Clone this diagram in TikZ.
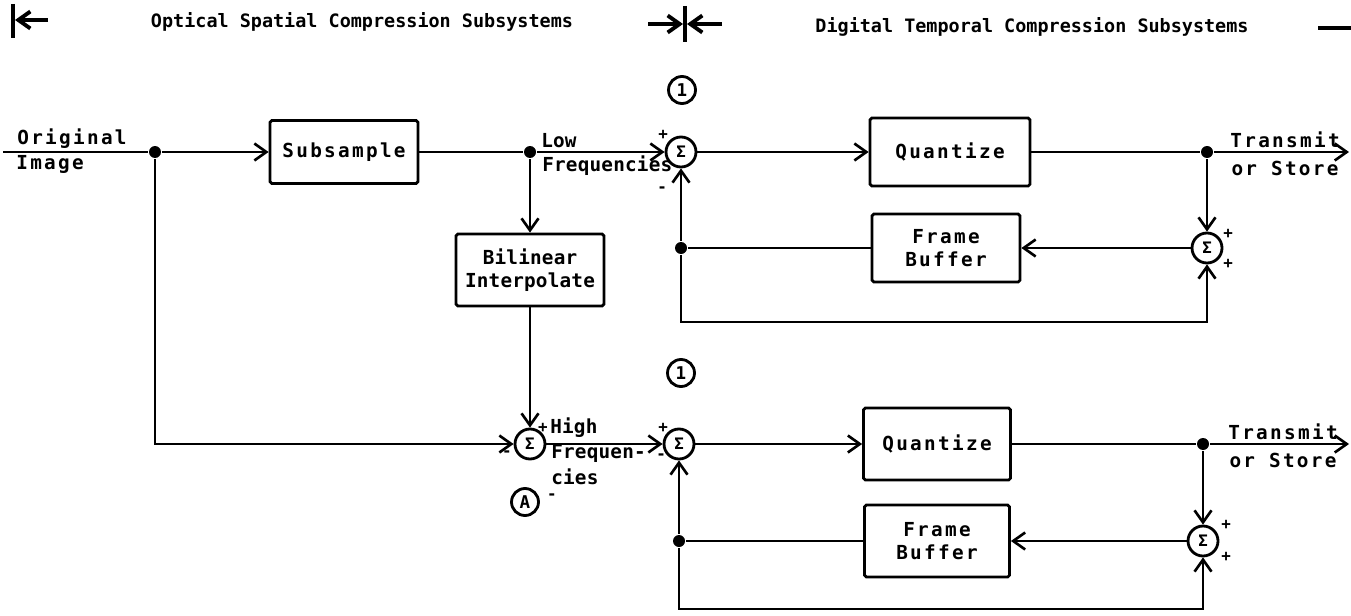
\documentclass[tikz,border=0pt]{standalone}
\usepackage{fontspec}
\setmainfont{DejaVu Sans Mono}
\newfontfamily\lblfont[LetterSpace=12]{DejaVu Sans Mono}
\newfontfamily\nrwfont[LetterSpace=1]{DejaVu Sans Mono}
\newfontfamily\hdrfont{DejaVu Sans Mono}
\newcommand{\lblsize}{\fontsize{11}{13}\selectfont}
\usetikzlibrary{arrows.meta}

\begin{document}
\begin{tikzpicture}[
x=0.02cm, y=-0.02cm,
line width=1.5pt,
>={Straight Barb[length=2.4mm,width=3.4mm]},
blk/.style={draw, line width=1.6pt, rounded corners=1pt, font=\lblfont\bfseries\lblsize, align=center, inner sep=2pt},
sum/.style={draw, circle, line width=1.6pt, minimum size=0.6cm, inner sep=0pt, font=\lblfont\bfseries\small},
dot/.style={circle, fill, minimum size=0.24cm, inner sep=0pt},
lbl/.style={font=\lblfont\bfseries\lblsize, inner sep=0pt},
nlbl/.style={font=\nrwfont\bfseries\lblsize, inner sep=0pt},
sgn/.style={font=\bfseries\small, inner sep=0pt},
tag/.style={draw, circle, line width=1.6pt, minimum size=0.54cm, inner sep=0pt, font=\lblfont\bfseries}
]
\useasboundingbox (0,0) rectangle (1351,615);

% ---------- HEADER ----------
\coordinate (hlb1) at (13,4);
\coordinate (hlb2) at (13,38);
\coordinate (hla1) at (48,20);
\coordinate (hla2) at (15,20);
\draw[line width=2.2pt] (hlb1) -- (hlb2);
\draw[->, line width=2.2pt] (hla1) -- (hla2);
\node[font=\hdrfont\bfseries\fontsize{10.5}{12}\selectfont, inner sep=0pt] (hopt) at (362,22) {Optical Spatial Compression Subsystems};

\coordinate (hmb1) at (685,6);
\coordinate (hmb2) at (685,42);
\coordinate (hma1) at (648,24);
\coordinate (hma2) at (683,24);
\coordinate (hma3) at (722,24);
\coordinate (hma4) at (687,24);
\draw[line width=2pt] (hmb1) -- (hmb2);
\draw[->, line width=2.2pt] (hma1) -- (hma2);
\draw[->, line width=2.2pt] (hma3) -- (hma4);
\node[font=\hdrfont\bfseries\fontsize{10.5}{12}\selectfont, inner sep=0pt] (hdig) at (1032,27) {Digital Temporal Compression Subsystems};

\coordinate (hr1) at (1318,28);
\coordinate (hr2) at (1351,28);
\draw[line width=2.2pt] (hr1) -- (hr2);

% ---------- TOP CHANNEL: LOW FREQUENCIES ----------
\coordinate (in1) at (3,152);
\node[lbl] (orig) at (72,139) {Original};
\node[lbl, anchor=west] (img) at (15,164) {Image};
\node[dot] (j1) at (155,152) {};
\node[blk, minimum width=2.96cm, minimum height=1.26cm] (sub) at (344,152) {Subsample};
\node[dot] (j2) at (530,152) {};
\node[nlbl, anchor=west] (low) at (540,141) {Low};
\node[nlbl, anchor=west] (lowf) at (541,166) {Frequencies};

\node[tag] (c1) at (682,90) {1};
\node[sum] (s1) at (681,152) {Σ};
\node[sgn] (s1p) at (663,135) {+};
\node[sgn] (s1m) at (662,190) {-};
\node[blk, minimum width=3.2cm, minimum height=1.36cm] (q1) at (950,152) {Quantize};
\node[dot] (j3) at (1207,152) {};
\coordinate (out1) at (1349,152);
\node[lbl] (tx1) at (1285,140) {Transmit};
\node[lbl] (st1) at (1285,168) {or Store};

\node[sum] (s2) at (1207,248) {Σ};
\node[sgn] (s2p) at (1228,234) {+};
\node[sgn] (s2q) at (1228,264) {+};
\node[blk, minimum width=2.96cm, minimum height=1.36cm] (fb1) at (946,248) {Frame\\Buffer};
\node[dot] (j4) at (681,248) {};
\coordinate (lp1) at (1207,322);

% connections
\draw[->] (in1) -- (j1) -- (sub);
\draw (sub) -- (j2);
\draw[->] (j2) -- (s1);
\draw[->] (s1) -- (q1);
\draw (q1) -- (j3);
\draw[->] (j3) -- (out1);
\draw[->] (j3) -- (s2);
\draw[->] (s2) -- (fb1);
\draw (fb1) -- (j4);
\draw[->] (j4) -- (s1);
\draw[->] (j4) |- (lp1) -- (s2);

% ---------- BOTTOM CHANNEL: HIGH FREQUENCIES ----------
\node[blk, font=\nrwfont\bfseries\lblsize, minimum width=2.96cm, minimum height=1.44cm] (bil) at (530,270) {Bilinear\\Interpolate};
\node[sum] (s3) at (530,444) {Σ};
\node[sgn] (s3m) at (507,454) {-};
\node[sgn] (s3p) at (543,428) {+};
\node[nlbl, anchor=west] (high) at (549,428) {High};
\node[nlbl, anchor=west] (highf) at (550,453) {Frequen-};
\node[nlbl, anchor=west] (highc) at (550,477) {cies};
\node[tag] (ca) at (525,502) {A};
\node[sgn] (cam) at (552,497) {-};

\node[tag] (c2) at (681,373) {1};
\node[sum] (s4) at (679,444) {Σ};
\node[sgn] (s4p) at (663,428) {+};
\node[sgn] (s4m) at (661,457) {-};
\node[blk, minimum width=2.94cm, minimum height=1.44cm] (q2) at (937,444) {Quantize};
\node[dot] (j5) at (1203,444) {};
\coordinate (out2) at (1349,444);
\node[lbl] (tx2) at (1283,432) {Transmit};
\node[lbl] (st2) at (1283,460) {or Store};

\node[sum] (s5) at (1203,541) {Σ};
\node[sgn] (s5p) at (1226,525) {+};
\node[sgn] (s5q) at (1226,557) {+};
\node[blk, minimum width=2.9cm, minimum height=1.44cm] (fb2) at (937,541) {Frame\\Buffer};
\node[dot] (j6) at (679,541) {};
\coordinate (lp2) at (1203,609);

% connections
\draw[->] (j2) -- (bil);
\draw[->] (bil) -- (s3);
\draw[->] (j1) |- (s3);
\draw[->] (s3) -- (s4);
\draw[->] (s4) -- (q2);
\draw (q2) -- (j5);
\draw[->] (j5) -- (out2);
\draw[->] (j5) -- (s5);
\draw[->] (s5) -- (fb2);
\draw (fb2) -- (j6);
\draw[->] (j6) -- (s4);
\draw[->] (j6) |- (lp2) -- (s5);

\end{tikzpicture}
\end{document}
